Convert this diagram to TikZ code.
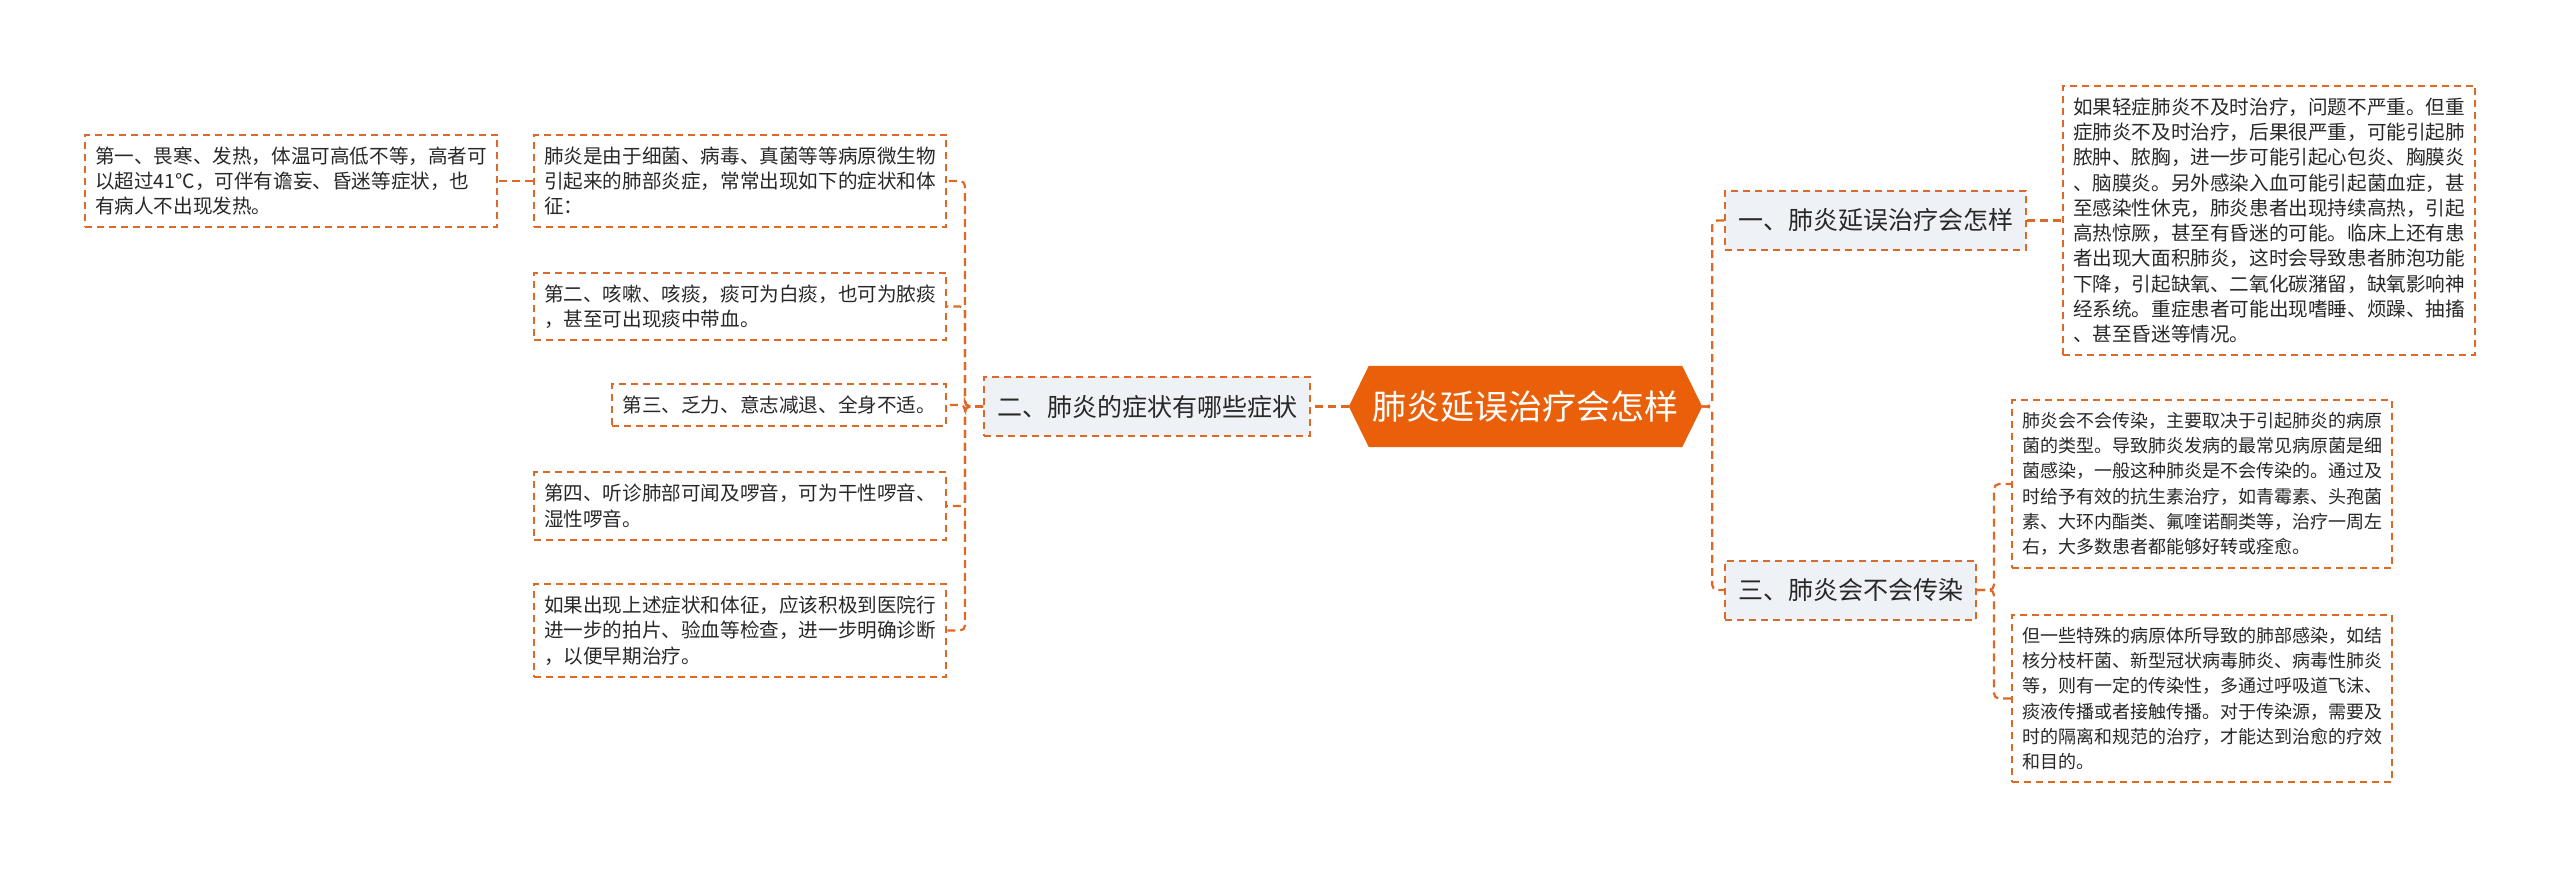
\documentclass[tikz,border=0pt]{standalone}
\usepackage{fontspec}
\newfontfamily\cjk{Noto Sans CJK SC}
\usetikzlibrary{backgrounds}
\definecolor{org}{RGB}{234,96,10}
\definecolor{dsh}{RGB}{222,104,38}
\definecolor{bfill}{RGB}{238,241,245}
\definecolor{txt}{RGB}{40,40,40}
\begin{document}
\begin{tikzpicture}[x=1pt,y=-1pt,
 leaf/.style={draw=dsh, line width=2pt, dash pattern=on 7pt off 5pt, fill=white, inner xsep=10pt, inner ysep=12pt, align=left, font=\cjk\fontsize{19.6}{25.3}\selectfont, text=txt},
 leafs/.style={leaf, font=\cjk\fontsize{18}{25.3}\selectfont},
 branch/.style={draw=dsh, line width=2pt, dash pattern=on 7pt off 5pt, fill=bfill, inner xsep=13pt, minimum height=59pt, font=\cjk\fontsize{25}{30}\selectfont, text=txt},
 rootnode/.style={font=\cjk\fontsize{34}{40}\selectfont, text=white, minimum width=353pt, minimum height=81pt, inner sep=0pt},
 conn/.style={draw=dsh, line width=2.2pt, dash pattern=on 8pt off 5pt, rounded corners=5pt},
]
\useasboundingbox (0,0) rectangle (2560,868);

% root
\node[rootnode] (root) at (1525.5,406.5) {肺炎延误治疗会怎样};
\begin{scope}[on background layer]
\fill[org] (root.west) -- ([xshift=20pt]root.north west) -- ([xshift=-20pt]root.north east) -- (root.east) -- ([xshift=-20pt]root.south east) -- ([xshift=20pt]root.south west) -- cycle;
\end{scope}

% branches
\node[branch, anchor=east] (b2) at (1311,406.5) {二、肺炎的症状有哪些症状};
\node[branch, anchor=west] (b1) at (1724,220.5) {一、肺炎延误治疗会怎样};
\node[branch, anchor=west] (b3) at (1724,590) {三、肺炎会不会传染};

% left leaves
\node[leaf, anchor=east] (l1) at (498,181) {第一、畏寒、发热，体温可高低不等，高者可\\以超过41℃，可伴有谵妄、昏迷等症状，也\\有病人不出现发热。};
\node[leaf, anchor=east] (l2) at (947,181) {肺炎是由于细菌、病毒、真菌等等病原微生物\\引起来的肺部炎症，常常出现如下的症状和体\\征：};
\node[leaf, anchor=east] (l3) at (947,306.5) {第二、咳嗽、咳痰，痰可为白痰，也可为脓痰\\，甚至可出现痰中带血。};
\node[leaf, anchor=east] (l4) at (947,405) {第三、乏力、意志减退、全身不适。};
\node[leaf, anchor=east] (l5) at (947,506) {第四、听诊肺部可闻及啰音，可为干性啰音、\\湿性啰音。};
\node[leaf, anchor=east] (l6) at (947,630.5) {如果出现上述症状和体征，应该积极到医院行\\进一步的拍片、验血等检查，进一步明确诊断\\，以便早期治疗。};

% right leaves
\node[leaf, anchor=west] (r1) at (2062,220.5) {如果轻症肺炎不及时治疗，问题不严重。但重\\症肺炎不及时治疗，后果很严重，可能引起肺\\脓肿、脓胸，进一步可能引起心包炎、胸膜炎\\、脑膜炎。另外感染入血可能引起菌血症，甚\\至感染性休克，肺炎患者出现持续高热，引起\\高热惊厥，甚至有昏迷的可能。临床上还有患\\者出现大面积肺炎，这时会导致患者肺泡功能\\下降，引起缺氧、二氧化碳潴留，缺氧影响神\\经系统。重症患者可能出现嗜睡、烦躁、抽搐\\、甚至昏迷等情况。};
\node[leafs, anchor=west] (r2) at (2011,484) {肺炎会不会传染，主要取决于引起肺炎的病原\\菌的类型。导致肺炎发病的最常见病原菌是细\\菌感染，一般这种肺炎是不会传染的。通过及\\时给予有效的抗生素治疗，如青霉素、头孢菌\\素、大环内酯类、氟喹诺酮类等，治疗一周左\\右，大多数患者都能够好转或痊愈。};
\node[leafs, anchor=west] (r3) at (2011,698.5) {但一些特殊的病原体所导致的肺部感染，如结\\核分枝杆菌、新型冠状病毒肺炎、病毒性肺炎\\等，则有一定的传染性，多通过呼吸道飞沫、\\痰液传播或者接触传播。对于传染源，需要及\\时的隔离和规范的治疗，才能达到治愈的疗效\\和目的。};

% connectors
\draw[conn] (root.west) -- (b2.east);
\foreach \t in {l2,l3,l4,l5,l6}{
  \draw[conn] (b2.west) -- ++(-18,0) |- (\t.east);
}
\draw[conn] (l2.west) -- (l1.east);
\draw[conn] (root.east) -- ++(10,0) |- (b1.west);
\draw[conn] (root.east) -- ++(10,0) |- (b3.west);
\draw[conn] (b1.east) -- (r1.west);
\draw[conn] (b3.east) -- ++(17,0) |- (r2.west);
\draw[conn] (b3.east) -- ++(17,0) |- (r3.west);
\end{tikzpicture}
\end{document}
